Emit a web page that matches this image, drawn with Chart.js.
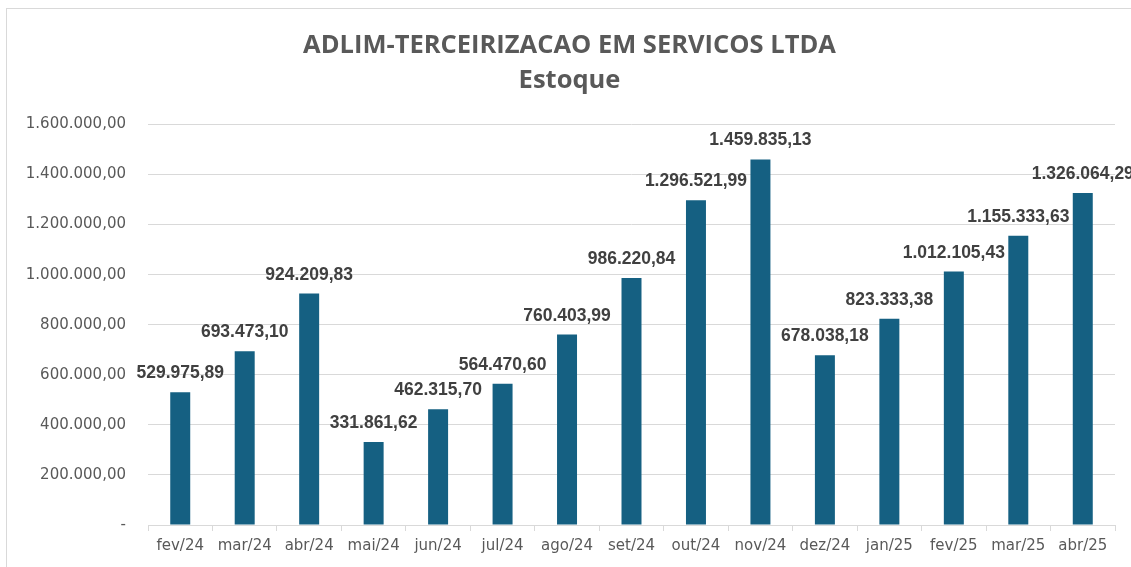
<!DOCTYPE html>
<html>
<head>
<meta charset="utf-8">
<script src="https://cdn.jsdelivr.net/npm/chart.js@4.4.1/dist/chart.umd.min.js"></script>
<style>
    html, body { margin: 0; padding: 0; background: #fff; overflow: hidden; }
    #frame {
        position: absolute; left: 6px; top: 8px;
        width: 1140px; height: 570px;
        border: 1px solid #d9d9d9;
    }
    #wrap { position: absolute; left: 0; top: 0; width: 1131px; height: 567px; }
</style>
</head>
<body>
<div id="frame"></div>
<div id="wrap"><canvas id="myChart"></canvas></div>
<script>
/*--------------------------- dados ---------------------------*/
const meses = ['fev/24', 'mar/24', 'abr/24', 'mai/24', 'jun/24', 'jul/24', 'ago/24',
    'set/24', 'out/24', 'nov/24', 'dez/24', 'jan/25', 'fev/25', 'mar/25', 'abr/25'];
const estoque = [529975.89, 693473.10, 924209.83, 331861.62, 462315.70, 564470.60, 760403.99,
    986220.84, 1296521.99, 1459835.13, 678038.18, 823333.38, 1012105.43, 1155333.63, 1326064.29];
const ticksY = [0, 200000, 400000, 600000, 800000, 1000000, 1200000, 1400000, 1600000];

// formato pt-BR: 1.234.567,89
function fmt(v) {
    if (v === 0) return '-';
    let s = v.toFixed(2).split('.');
    let inteiro = s[0].replace(/\B(?=(\d{3})+(?!\d))/g, '.');
    return inteiro + ',' + s[1];
}

// rótulos em cima das barras
const rotulos = {
    id: 'rotulos',
    afterDatasetsDraw(chart) {
        const ctx = chart.ctx;
        const meta = chart.getDatasetMeta(0);
        ctx.save();
        ctx.font = 'bold 17.5px "Liberation Sans", Arial, sans-serif';
        ctx.fillStyle = '#404040';
        ctx.textAlign = 'center';
        ctx.textBaseline = 'alphabetic';
        meta.data.forEach((bar, i) => {
            ctx.fillText(fmt(estoque[i]), bar.x, bar.y - 14);
        });
        ctx.restore();
    }
};

const config = {
    type: 'bar',
    data: {
        labels: meses,
        datasets: [{
            label: 'Estoque',
            data: estoque,
            backgroundColor: '#156082',
            borderWidth: 0,
            barPercentage: 0.62,
            categoryPercentage: 0.5
        }]
    },
    options: {
        responsive: true,
        maintainAspectRatio: false,
        animation: false,
        layout: { padding: { top: 12, right: 16, bottom: 0, left: 24 } },
        plugins: {
            legend: { display: false },
            tooltip: { enabled: false },
            title: {
                display: true,
                text: ['ADLIM-TERCEIRIZACAO EM SERVICOS LTDA', 'Estoque'],
                color: '#595959',
                font: { family: '"Open Sans", sans-serif', size: 25.5, weight: 'bold', lineHeight: 1.38 },
                padding: { top: 16, bottom: 26 }
            }
        },
        scales: {
            x: {
                grid: {
                    display: true,
                    drawOnChartArea: false,
                    drawTicks: true,
                    tickLength: 6,
                    color: '#d9d9d9',
                    offset: true
                },
                border: { display: true, color: '#d9d9d9' },
                ticks: {
                    color: '#595959',
                    font: { family: '"DejaVu Sans", sans-serif', size: 15 },
                    padding: 6,
                    maxRotation: 0
                },
                afterFit(scale) { scale.height = 42; }
            },
            y: {
                min: 0,
                max: 1600000,
                grid: { color: '#d9d9d9', drawTicks: false },
                border: { display: false },
                afterBuildTicks(scale) {
                    scale.ticks = ticksY.map(v => ({ value: v }));
                },
                ticks: {
                    color: '#595959',
                    font: { family: '"DejaVu Sans", sans-serif', size: 15 },
                    padding: 22,
                    callback: (v) => fmt(v)
                },
                afterFit(scale) { scale.width = 124; }
            }
        }
    },
    plugins: [rotulos]
};

const myChart = new Chart(document.getElementById('myChart'), config);
</script>
</body>
</html>
